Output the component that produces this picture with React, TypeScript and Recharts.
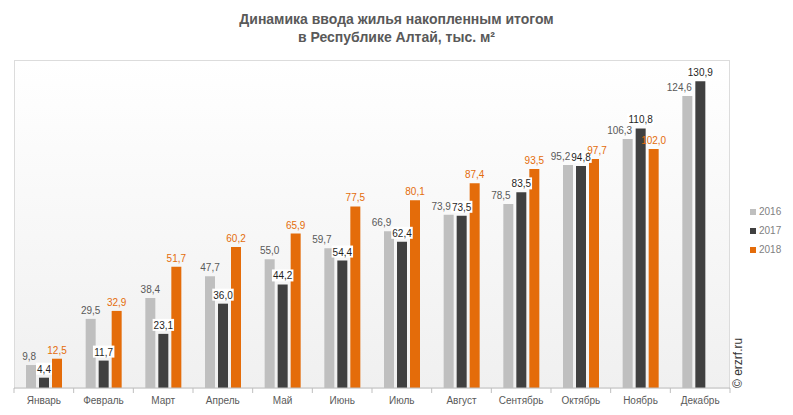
import { BarChart, Bar, XAxis, YAxis, LabelList } from "recharts";

const months = ["Январь", "Февраль", "Март", "Апрель", "Май", "Июнь", "Июль", "Август", "Сентябрь", "Октябрь", "Ноябрь", "Декабрь"];
const y2016 = [9.8, 29.5, 38.4, 47.7, 55.0, 59.7, 66.9, 73.9, 78.5, 95.2, 106.3, 124.6];
const y2017 = [4.4, 11.7, 23.1, 36.0, 44.2, 54.4, 62.4, 73.5, 83.5, 94.8, 110.8, 130.9];
const y2018 = [12.5, 32.9, 51.7, 60.2, 65.9, 77.5, 80.1, 87.4, 93.5, 97.7, 102.0, null];

const series = [
  { key: "y2016", name: "2016", color: "#bfbfbf", label: "#595959" },
  { key: "y2017", name: "2017", color: "#404040", label: "#1f1f1f" },
  { key: "y2018", name: "2018", color: "#e46c0a", label: "#e46c0a" },
];

const data = months.map((m, i) => ({ month: m, y2016: y2016[i], y2017: y2017[i], y2018: y2018[i] }));

const W = 793;
const H = 415;
const plot = { left: 14, top: 60, right: 730, bottom: 388 };
const band = (plot.right - plot.left) / months.length;
const pxPerUnit = (plot.bottom - plot.top) / 140;
const font = "'Liberation Sans', Arial, sans-serif";

const fmt = (v: any) => (v == null ? "" : Number(v).toFixed(1).replace(".", ","));
const textW = (s: string) => s.replace(",", "").length * 5.56 + (s.includes(",") ? 2.78 : 0);

// how far two neighbouring labels collide sideways (0 if they clear each other)
const clash = (a: number | null, b: number | null) => {
  if (a == null || b == null) return 0;
  if (Math.abs(a - b) * pxPerUnit > 16) return 0;
  return Math.max(0, (textW(fmt(a)) + textW(fmt(b))) / 2 - 13);
};

const labelShift = (key: string, i: number) => {
  if (key === "y2016") {
    const o = clash(y2016[i], y2017[i]);
    return o > 0 ? -Math.min(o + 1, 8) : 0;
  }
  if (key === "y2018") {
    const o = clash(y2018[i], y2017[i]);
    return o > 0 && Math.abs((y2018[i] ?? 0) - y2017[i]) * pxPerUnit < 12 ? 3 : 0;
  }
  return 0;
};

const makeLabel = (s: (typeof series)[number]) => (props: any) => {
  const { x, y, width, value, index } = props;
  if (value == null) return null;
  const txt = fmt(value);
  const cx = Number(x) + Number(width) / 2 + labelShift(s.key, index);
  const by = Number(y) - 5;
  const w = textW(txt);
  return (
    <g>
      {s.key === "y2017" && <rect x={cx - w / 2 - 1} y={by - 10} width={w + 2} height={12} fill="#fff" />}
      <text x={cx} y={by} textAnchor="middle" fontSize={10} fill={s.label} fontFamily={font}>
        {txt}
      </text>
    </g>
  );
};

const MonthTick = (props: any) => {
  const { x, payload, index } = props;
  const ay = plot.bottom;
  return (
    <g>
      <line x1={x - band / 2} x2={x - band / 2} y1={ay} y2={ay + 5} stroke="#bfbfbf" />
      {index === months.length - 1 && (
        <line x1={x + band / 2} x2={x + band / 2} y1={ay} y2={ay + 5} stroke="#bfbfbf" />
      )}
      <text x={x} y={ay + 16} textAnchor="middle" fontSize={10} fill="#595959" fontFamily={font}>
        {payload.value}
      </text>
    </g>
  );
};

export default function App() {
  return (
    <div style={{ position: "absolute", left: 0, top: 0, width: W, height: H, background: "#fff", fontFamily: font }}>
      <div
        style={{
          position: "absolute",
          left: 0,
          top: 10,
          width: W,
          textAlign: "center",
          fontSize: 14,
          fontWeight: "bold",
          color: "#595959",
          lineHeight: "18px",
        }}
      >
        Динамика ввода жилья накопленным итогом
        <br />в Республике Алтай, тыс. м²
      </div>
      <div
        style={{
          position: "absolute",
          left: plot.left,
          top: plot.top,
          width: plot.right - plot.left - 2,
          height: plot.bottom - plot.top,
          border: "1px solid #dcdcdc",
          borderBottom: "none",
          background: "linear-gradient(#ffffff, #f0f0f0)",
        }}
      />
      <div
        style={{
          position: "absolute",
          left: 731,
          top: 388,
          transform: "rotate(-90deg)",
          transformOrigin: "left top",
          fontSize: 12,
          color: "#333",
          whiteSpace: "nowrap",
        }}
      >
        © erzrf.ru
      </div>
      <div style={{ position: "absolute", left: 750, top: 202, fontSize: 10, color: "#7f7f7f" }}>
        {series.map((s) => (
          <div key={s.key} style={{ display: "flex", alignItems: "center", height: 19 }}>
            <span style={{ width: 6, height: 6, background: s.color, marginRight: 3, display: "inline-block" }} />
            {s.name}
          </div>
        ))}
      </div>
      <div style={{ position: "absolute", left: 0, top: 0 }}>
        <BarChart
          width={W}
          height={H}
          data={data}
          margin={{ top: plot.top, left: plot.left, right: W - plot.right, bottom: 7 }}
          barSize={10}
          barGap={3}
          barCategoryGap={12}
        >
          <XAxis
            dataKey="month"
            height={H - plot.bottom - 7}
            axisLine={{ stroke: "#bfbfbf" }}
            tickLine={false}
            interval={0}
            tick={<MonthTick />}
          />
          <YAxis hide domain={[0, 140]} />
          {series.map((s) => (
            <Bar key={s.key} dataKey={s.key} name={s.name} fill={s.color} isAnimationActive={false}>
              <LabelList dataKey={s.key} content={makeLabel(s)} />
            </Bar>
          ))}
        </BarChart>
      </div>
    </div>
  );
}
